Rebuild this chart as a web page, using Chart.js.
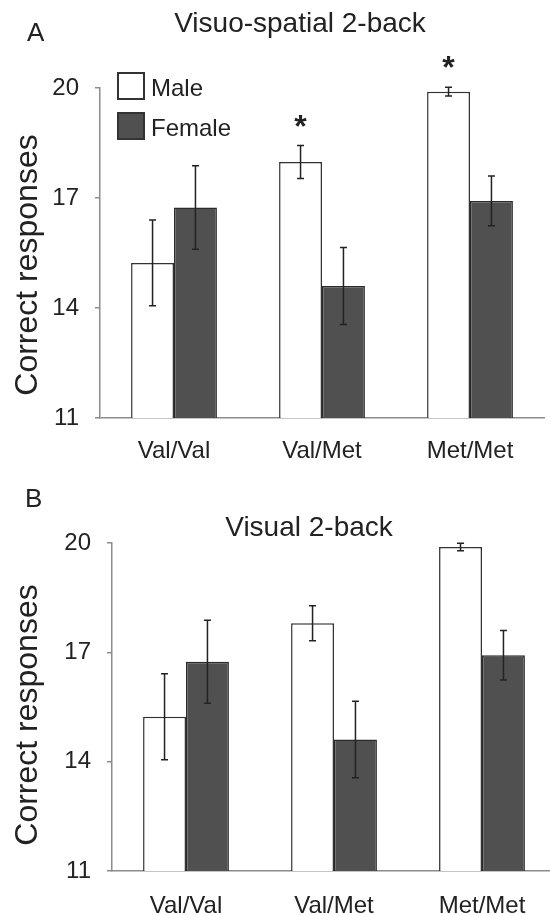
<!DOCTYPE html>
<html>
<head>
<meta charset="utf-8">
<script src="https://cdn.jsdelivr.net/npm/chart.js@4.4.1/dist/chart.umd.min.js"></script>
<style>
  body { margin: 0; width: 550px; height: 915px; overflow: hidden; background: #fff; position: relative;
         font-family: "Liberation Sans", Arial, sans-serif; color: #222; }
  canvas { position: absolute; left: 0; }
  .txt { position: absolute; white-space: nowrap; line-height: 1; }
  .ytitle { position: absolute; white-space: nowrap; line-height: 1; font-size: 32px;
            transform: translate(-50%, -50%) rotate(-90deg); }
  .box { position: absolute; width: 24px; height: 24px; border: 2px solid #333; }
</style>
</head>
<body>
<canvas id="panelA" width="550" height="475" style="top:0"></canvas>
<canvas id="panelB" width="560" height="475" style="top:455px"></canvas>

<div class="txt" style="left:27px;top:19px;font-size:26px">A</div>
<div class="txt" style="left:25px;top:485px;font-size:26px">B</div>
<div class="txt" style="left:300px;top:9px;font-size:28px;transform:translateX(-50%)">Visuo-spatial 2-back</div>
<div class="txt" style="left:309px;top:513px;font-size:28px;transform:translateX(-50%)">Visual 2-back</div>
<div class="ytitle" style="left:26px;top:265px">Correct responses</div>
<div class="ytitle" style="left:26px;top:715px">Correct responses</div>

<div class="box" style="left:117px;top:72px;background:#fff"></div>
<div class="txt" style="left:151px;top:76px;font-size:24px">Male</div>
<div class="box" style="left:117px;top:112px;background:#505050"></div>
<div class="txt" style="left:151px;top:116px;font-size:24px">Female</div>

<script>
const genotypes = ['Val/Val', 'Val/Met', 'Met/Met'];
const yTicks = [11, 14, 17, 20];

// A: visuo-spatial 2-back
const maleSpatial = [15.23, 17.98, 19.9];
const maleSpatialErr = [1.17, 0.45, 0.12];
const femaleSpatial = [16.74, 14.6, 16.92];
const femaleSpatialErr = [1.14, 1.05, 0.68];
const spatialStars = ['', '*', '*'];

// B: visual 2-back
const maleVisual = [15.23, 17.8, 19.89];
const maleVisualErr = [1.18, 0.48, 0.1];
const femaleVisual = [16.74, 14.61, 16.92];
const femaleVisualErr = [1.14, 1.05, 0.68];

// error bars + significance stars
const errBars = {
    id: 'errBars',
    afterDatasetsDraw(chart) {
        const ctx = chart.ctx;
        const y = chart.scales.y;
        chart.data.datasets.forEach((ds, i) => {
            chart.getDatasetMeta(i).data.forEach((bar, j) => {
                const top = y.getPixelForValue(ds.data[j] + ds.err[j]);
                const bot = y.getPixelForValue(ds.data[j] - ds.err[j]);
                ctx.save();
                ctx.strokeStyle = '#222';
                ctx.lineWidth = 1.5;
                ctx.beginPath();
                ctx.moveTo(bar.x, top); ctx.lineTo(bar.x, bot);
                ctx.moveTo(bar.x - 3.5, top); ctx.lineTo(bar.x + 3.5, top);
                ctx.moveTo(bar.x - 3.5, bot); ctx.lineTo(bar.x + 3.5, bot);
                ctx.stroke();
                if (ds.stars && ds.stars[j]) {
                    ctx.fillStyle = '#222';
                    ctx.font = 'bold 32px "Liberation Sans", Arial';
                    ctx.textAlign = 'center';
                    ctx.textBaseline = 'alphabetic';
                    ctx.fillText(ds.stars[j], bar.x, top - 9);
                }
                ctx.restore();
            });
        });
    }
};

function makeChart(id, male, maleErr, female, femaleErr, stars, axisX, padRight, xHeight, xPad) {
    return new Chart(document.getElementById(id), {
        type: 'bar',
        data: {
            labels: genotypes,
            datasets: [{
                label: 'Male',
                data: male,
                err: maleErr,
                stars: stars,
                backgroundColor: '#ffffff',
                borderColor: '#333333',
                borderWidth: 1.5
            }, {
                label: 'Female',
                data: female,
                err: femaleErr,
                backgroundColor: '#505050',
                borderColor: '#2a2a2a',
                borderWidth: 1.5
            }]
        },
        options: {
            responsive: false,
            animation: false,
            layout: { padding: { top: 88, right: padRight, left: 0, bottom: 0 } },
            plugins: { legend: { display: false }, tooltip: { enabled: false } },
            datasets: { bar: { categoryPercentage: 0.58, barPercentage: 1.0 } },
            scales: {
                x: {
                    grid: { display: false },
                    border: { color: '#8c8c8c', width: 1.5 },
                    ticks: { color: '#222', font: { size: 24, family: '"Liberation Sans", Arial' }, padding: xPad },
                    afterFit: s => { s.height = xHeight; }
                },
                y: {
                    min: 11,
                    max: 20,
                    afterBuildTicks: s => { s.ticks = yTicks.map(v => ({ value: v })); },
                    grid: { drawOnChartArea: false, drawTicks: true, tickLength: 5, color: '#8c8c8c', lineWidth: 1.5 },
                    border: { color: '#8c8c8c', width: 1.5 },
                    ticks: { color: '#222', font: { size: 24, family: '"Liberation Sans", Arial' }, padding: 16 },
                    afterFit: s => { s.width = axisX; }
                }
            }
        },
        plugins: [errBars]
    });
}

makeChart('panelA', maleSpatial, maleSpatialErr, femaleSpatial, femaleSpatialErr, spatialStars, 100, 6, 57, 11);
makeChart('panelB', maleVisual, maleVisualErr, femaleVisual, femaleVisualErr, null, 112, 4, 59, 13);
</script>
</body>
</html>
